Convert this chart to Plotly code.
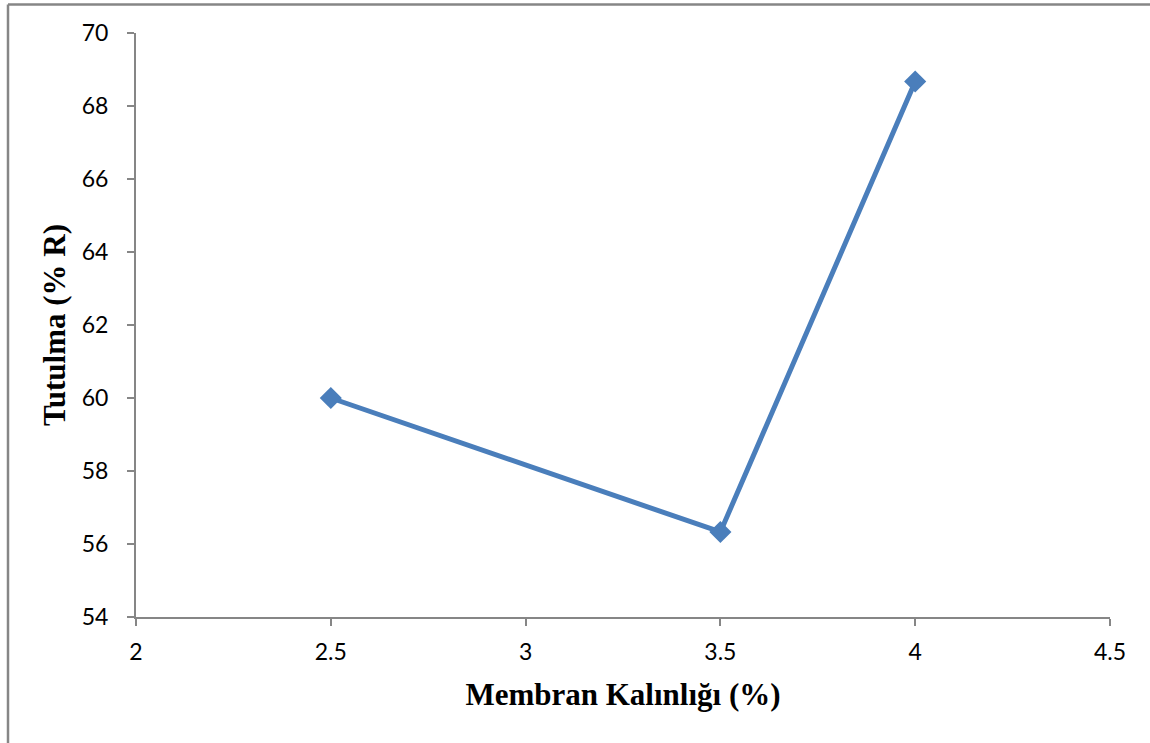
import plotly.graph_objects as go

# Membrane thickness (%) vs. retention (% R)
thickness = [2.5, 3.5, 4.0]
retention = [60.0, 56.33, 68.67]

x_ticks = [2, 2.5, 3, 3.5, 4, 4.5]
x_tick_text = ["2", "2.5", "3", "3.5", "4", "4.5"]
y_ticks = [54, 56, 58, 60, 62, 64, 66, 68, 70]

W, H = 1150, 743
L, R, T, B = 136, 40, 33, 126
pw, ph = W - L - R, H - T - B

def px_to_paper_x(px):
    return (px - L) / pw

def px_to_paper_y(py):
    return (H - B - py) / ph

axis_grey = "#868686"
line_blue = "#4A7EBB"

fig = go.Figure()
fig.add_trace(go.Scatter(
    x=thickness, y=retention,
    mode="lines+markers",
    line=dict(color=line_blue, width=5),
    marker=dict(symbol="diamond", size=17, color=line_blue,
                line=dict(color=line_blue, width=0)),
    showlegend=False,
    cliponaxis=False,
))

tick_font = dict(family="Lato, 'Open Sans', sans-serif", size=23, color="#000000")
title_font = dict(family="'Liberation Serif', 'Times New Roman', serif", size=31, color="#000000")

fig.update_xaxes(
    range=[2, 4.5], tickvals=x_ticks, ticktext=x_tick_text,
    showgrid=False, zeroline=False,
    showline=True, linecolor=axis_grey, linewidth=2,
    ticks="outside", ticklen=7, tickwidth=2, tickcolor=axis_grey,
    tickfont=tick_font, ticklabelstandoff=6,
    title=dict(text="<b>Membran Kalınlığı (%)</b>", font=title_font, standoff=20),
)
fig.update_yaxes(
    range=[54, 70], tickvals=y_ticks,
    showgrid=False, zeroline=False,
    showline=True, linecolor=axis_grey, linewidth=2,
    ticks="outside", ticklen=7, tickwidth=2, tickcolor=axis_grey,
    tickfont=tick_font, ticklabelstandoff=14,
    title=dict(text="<b>Tutulma (% R)</b>", font=title_font, standoff=7),
)

# Outer chart frame (top and left edges)
x0 = px_to_paper_x(8)
y_top = px_to_paper_y(4.5)
y_bot = px_to_paper_y(H + 5)
x_right = px_to_paper_x(W + 5)
fig.add_shape(type="line", xref="paper", yref="paper",
              x0=x0, x1=x_right, y0=y_top, y1=y_top,
              line=dict(color=axis_grey, width=2.5))
fig.add_shape(type="line", xref="paper", yref="paper",
              x0=x0, x1=x0, y0=y_top, y1=y_bot,
              line=dict(color=axis_grey, width=2.5))

fig.update_layout(
    width=W, height=H,
    margin=dict(l=L, r=R, t=T, b=B),
    paper_bgcolor="white", plot_bgcolor="white",
)

fig.write_html("out.html")
